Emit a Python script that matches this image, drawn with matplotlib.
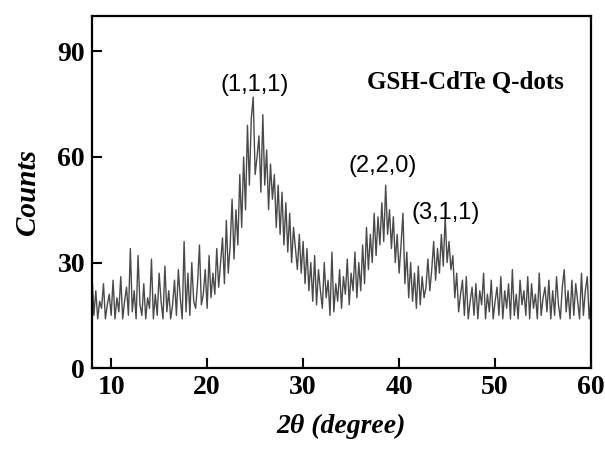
import numpy as np
import matplotlib
matplotlib.use('Agg')
import matplotlib.pyplot as plt

# 2theta grid: 8.0 .. 60.0 step 0.2
two_theta = np.round(np.arange(8.0, 60.0001, 0.2), 1)
counts = [
    27, 15, 22, 14, 19, 17, 24, 14, 18, 21,   # 8
    15, 25, 14, 20, 16, 26, 14, 19, 23, 15,   # 10
    34, 16, 22, 14, 32, 18, 15, 24, 14, 20,   # 12
    17, 31, 14, 21, 15, 27, 19, 14, 29, 16,   # 14
    22, 14, 18, 25, 15, 28, 20, 14, 36, 16,   # 16
    27, 15, 30, 19, 17, 24, 35, 18, 21, 28,   # 18
    17, 32, 20, 27, 21, 34, 23, 30, 37, 24,   # 20
    42, 27, 35, 48, 31, 45, 35, 55, 40, 60,   # 22
    45, 69, 52, 71, 77, 55, 60, 66, 50, 72,   # 24
    52, 62, 45, 58, 48, 55, 40, 52, 38, 50,   # 26
    35, 47, 33, 44, 30, 40, 34, 28, 38, 27,   # 28
    36, 24, 34, 22, 30, 19, 32, 18, 28, 22,   # 30
    17, 30, 20, 25, 15, 33, 16, 24, 19, 28,   # 32
    17, 26, 21, 31, 18, 27, 22, 33, 20, 30,   # 34
    22, 35, 24, 40, 28, 38, 30, 44, 32, 43,   # 36
    35, 47, 36, 52, 38, 45, 34, 43, 30, 38,   # 38
    27, 35, 44, 24, 33, 20, 30, 19, 27, 17,   # 40
    29, 18, 26, 20, 23, 31, 22, 28, 36, 25,   # 42
    34, 27, 38, 29, 43, 30, 36, 28, 32, 20,   # 44
    27, 16, 21, 25, 15, 26, 14, 19, 23, 15,   # 46
    24, 14, 22, 18, 27, 14, 21, 16, 25, 14,   # 48
    19, 23, 15, 26, 14, 22, 17, 24, 14, 28,   # 50
    15, 21, 14, 25, 18, 22, 15, 26, 14, 24,   # 52
    17, 21, 14, 27, 15, 20, 23, 16, 25, 14,   # 54
    22, 15, 26, 18, 14, 23, 28, 16, 22, 14,   # 56
    25, 15, 24, 19, 14, 27, 15, 22, 26, 14,   # 58
    20,                                       # 60
]

peak_labels = ["(1,1,1)", "(2,2,0)", "(3,1,1)"]
peak_pos = [(25.0, 80.5), (38.3, 57.4), (44.9, 44.0)]
sample_name = "GSH-CdTe Q-dots"

fig = plt.figure(figsize=(6.05, 4.49), dpi=100)
ax = fig.add_axes([0.152, 0.180, 0.825, 0.784])

ax.plot(two_theta, counts, color="#4a4a4a", lw=1.0)

ax.set_xlim(8, 60)
ax.set_ylim(0, 100)
ax.set_xticks([10, 20, 30, 40, 50, 60])
ax.set_yticks([0, 30, 60, 90])

serif = ["Liberation Serif", "DejaVu Serif"]
for lab in ax.get_xticklabels() + ax.get_yticklabels():
    lab.set_family(serif)
    lab.set_fontweight("bold")
    lab.set_fontsize(20)

ax.tick_params(direction="in", length=7, width=1.5, top=False, right=False, pad=5)
for s in ax.spines.values():
    s.set_linewidth(1.6)

ax.set_ylabel("Counts", family=serif, style="italic", fontweight="bold", fontsize=21, labelpad=12)
ax.set_xlabel("2θ (degree)", family=serif, style="italic", fontweight="bold", fontsize=20, labelpad=10)

for txt, (px, py) in zip(peak_labels, peak_pos):
    ax.text(px, py, txt, ha="center", va="center", family=["Liberation Sans", "DejaVu Sans"], fontsize=17)

ax.text(46.9, 81.3, sample_name, ha="center", va="center", family=serif, fontweight="bold", fontsize=18)

fig.savefig("out.png", dpi=100)
